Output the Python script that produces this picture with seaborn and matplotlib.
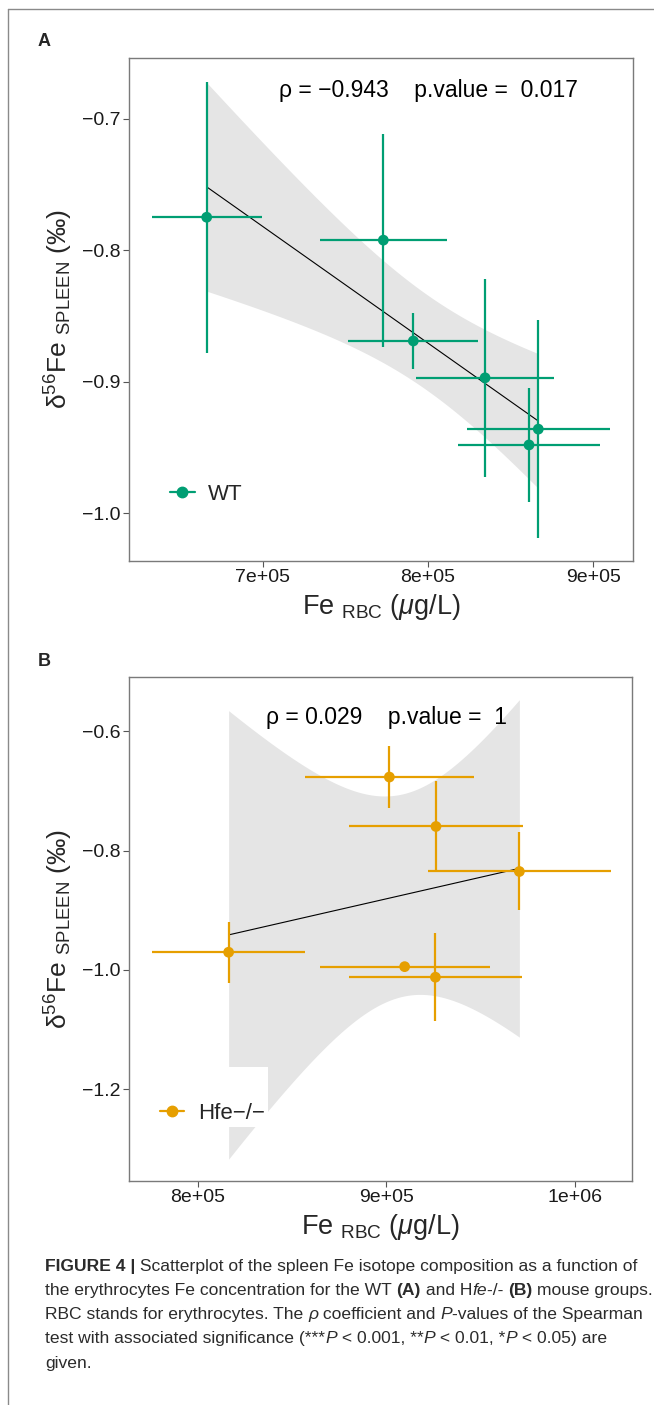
import numpy as np
import seaborn as sns
import matplotlib.pyplot as plt
from matplotlib.lines import Line2D
from matplotlib.ticker import FixedLocator, FuncFormatter

# ---- data ----
wt_fe = [666100, 772960, 791100, 834500, 866700, 861100]
wt_fe_err = [33300, 38600, 39300, 41500, 43200, 42900]
wt_d56 = [-0.775, -0.7924, -0.869, -0.897, -0.936, -0.948]
wt_d56_err = [0.103, 0.081, 0.021, 0.075, 0.083, 0.043]

hfe_fe = [901600, 926300, 970500, 816400, 909700, 926000]
hfe_fe_err = [44800, 46100, 48500, 40600, 45100, 46000]
hfe_d56 = [-0.6765, -0.7594, -0.8349, -0.9703, -0.9945, -1.0122]
hfe_d56_err = [0.052, 0.0766, 0.0654, 0.051, 0.006, 0.074]

wt_label = "\u03c1 = \u22120.943    p.value =  0.017"
hfe_label = "\u03c1 = 0.029    p.value =  1"

T975_DF4 = 2.776  # student t quantile, n = 6

GREEN = "#009E73"
ORANGE = "#E69F00"

sns.set_theme(style="white")
plt.rcParams["font.family"] = ["Liberation Sans", "DejaVu Sans"]
plt.rcParams["mathtext.fontset"] = "custom"
plt.rcParams["mathtext.rm"] = "Liberation Sans"
plt.rcParams["mathtext.it"] = "Liberation Sans:italic"
plt.rcParams["mathtext.bf"] = "Liberation Sans:bold"
plt.rcParams["mathtext.default"] = "regular"

W, H = 654, 1405
fig = plt.figure(figsize=(W / 100, H / 100), dpi=100)


def px_axes(left, top, right, bottom):
    return fig.add_axes([left / W, 1 - bottom / H, (right - left) / W, (bottom - top) / H])


def ci_band(ax, x, y):
    x = np.asarray(x, float)
    y = np.asarray(y, float)
    n = len(x)
    slope, icpt = np.polyfit(x, y, 1)
    resid = y - (slope * x + icpt)
    s = np.sqrt((resid ** 2).sum() / (n - 2))
    sxx = ((x - x.mean()) ** 2).sum()
    xs = np.linspace(x.min(), x.max(), 150)
    yh = slope * xs + icpt
    se = s * np.sqrt(1 / n + (xs - x.mean()) ** 2 / sxx)
    ax.fill_between(xs, yh - T975_DF4 * se, yh + T975_DF4 * se,
                    color="#e5e5e5", lw=0, zorder=1)


def panel(ax, x, xe, y, ye, color, name, label, xlim, ylim, xticks, yticks,
          txt_pos, leg_pos):
    ci_band(ax, x, y)
    sns.regplot(x=x, y=y, ax=ax, scatter=False, ci=None, truncate=True,
                line_kws=dict(color="black", lw=0.8, zorder=2))
    ax.errorbar(x, y, xerr=xe, yerr=ye, fmt="none", ecolor=color,
                elinewidth=1.6, capsize=0, zorder=3)
    sns.scatterplot(x=x, y=y, ax=ax, color=color, s=60, edgecolor="none",
                    zorder=4, legend=False)
    ax.set_xlim(*xlim)
    ax.set_ylim(*ylim)
    ax.xaxis.set_major_locator(FixedLocator(xticks))
    ax.yaxis.set_major_locator(FixedLocator(yticks))
    ax.xaxis.set_major_formatter(FuncFormatter(lambda v, p: f"{v:.0e}"))
    ax.yaxis.set_major_formatter(
        FuncFormatter(lambda v, p: f"{v:.1f}".replace("-", "\u2212")))
    ax.tick_params(axis="both", which="major", direction="out", length=4,
                   width=0.8, color="#555555", labelsize=14,
                   labelcolor="#1a1a1a", pad=2, bottom=True, left=True)
    for sp in ax.spines.values():
        sp.set_color("#7a7a7a")
        sp.set_linewidth(1.0)
    ax.set_xlabel(r"Fe $_{\mathrm{RBC}}$ ($\mathit{\mu}$g/L)", fontsize=19.5,
                  labelpad=4)
    ax.set_ylabel("$\u03b4^{56}$Fe $_{\\mathrm{SPLEEN}}$ (\u2030)", fontsize=19,
                  labelpad=5)
    ax.text(txt_pos[0], txt_pos[1], label, transform=ax.transAxes,
            ha="center", va="center", fontsize=16.5, color="black")
    h = Line2D([], [], color=color, marker="o", markersize=7.5, lw=1.6)
    leg = ax.legend([h], [name], loc="center left", bbox_to_anchor=leg_pos,
                    frameon=True, fancybox=False, fontsize=16,
                    handlelength=1.1, handletextpad=0.6, borderpad=0.15,
                    borderaxespad=0, title=" ", title_fontsize=16)
    leg.get_frame().set_facecolor("white")
    leg.get_frame().set_edgecolor("none")
    leg.get_frame().set_alpha(1)
    leg.set_zorder(5)


axA = px_axes(129, 58, 633, 561)
panel(axA, wt_fe, wt_fe_err, wt_d56, wt_d56_err, GREEN, "WT", wt_label,
      (619100, 924000), (-1.0362, -0.654),
      [700000, 800000, 900000], [-0.7, -0.8, -0.9, -1.0],
      (0.594, 0.936), (0.075, 0.165))

axB = px_axes(129, 677, 632, 1181)
panel(axB, hfe_fe, hfe_fe_err, hfe_d56, hfe_d56_err, ORANGE, "Hfe\u2212/\u2212",
      hfe_label, (763600, 1030200), (-1.354, -0.5087),
      [800000, 900000, 1000000], [-0.6, -0.8, -1.0, -1.2],
      (0.511, 0.919), (0.055, 0.166))

fig.text(38 / W, 1 - 41 / H, "A", fontsize=13, fontweight="bold",
         ha="left", va="center")
fig.text(38 / W, 1 - 661 / H, "B", fontsize=13, fontweight="bold",
         ha="left", va="center")

# journal frame (top and left rules)
fig.add_artist(Line2D([8 / W, 1], [1 - 9 / H, 1 - 9 / H], color="#8a8a8a",
                      lw=1.0, transform=fig.transFigure))
fig.add_artist(Line2D([8 / W, 8 / W], [1 - 9 / H, 0], color="#8a8a8a",
                      lw=1.0, transform=fig.transFigure))

# ---- caption, laid out piece by piece ----
CAP_FONT = ["Liberation Sans Narrow", "Liberation Sans", "DejaVu Sans"]
CAP_SIZE = 12.6
CAP_COLOR = "#2b2b2b"
caption = [
    [("FIGURE 4 |", "bold", "normal"),
     (" Scatterplot of the spleen Fe isotope composition as a function of", "normal", "normal")],
    [("the erythrocytes Fe concentration for the WT ", "normal", "normal"),
     ("(A)", "bold", "normal"), (" and H", "normal", "normal"),
     ("fe", "normal", "italic"), ("-/- ", "normal", "normal"),
     ("(B)", "bold", "normal"), (" mouse groups.", "normal", "normal")],
    [("RBC stands for erythrocytes. The ", "normal", "normal"),
     ("\u03c1", "normal", "italic"), (" coefficient and ", "normal", "normal"),
     ("P", "normal", "italic"), ("-values of the Spearman", "normal", "normal")],
    [("test with associated significance (***", "normal", "normal"),
     ("P", "normal", "italic"), (" < 0.001, **", "normal", "normal"),
     ("P", "normal", "italic"), (" < 0.01, *", "normal", "normal"),
     ("P", "normal", "italic"), (" < 0.05) are", "normal", "normal")],
    [("given.", "normal", "normal")],
]

renderer = fig.canvas.get_renderer()


def text_width(s, weight, style):
    kw = dict(fontsize=CAP_SIZE, fontweight=weight, fontstyle=style,
              family=CAP_FONT)
    a = fig.text(0, 0, "X" + s + "X", **kw)
    b = fig.text(0, 0, "XX", **kw)
    w = a.get_window_extent(renderer).width - b.get_window_extent(renderer).width
    a.remove()
    b.remove()
    return w


for i, line in enumerate(caption):
    xp = 45.0
    yp = 1266 + i * 24.3
    for s, weight, style in line:
        fig.text(xp / W, 1 - yp / H, s, fontsize=CAP_SIZE, fontweight=weight,
                 fontstyle=style, family=CAP_FONT, color=CAP_COLOR,
                 ha="left", va="center")
        xp += text_width(s, weight, style)

fig.savefig("out.png", dpi=100, facecolor="white")
